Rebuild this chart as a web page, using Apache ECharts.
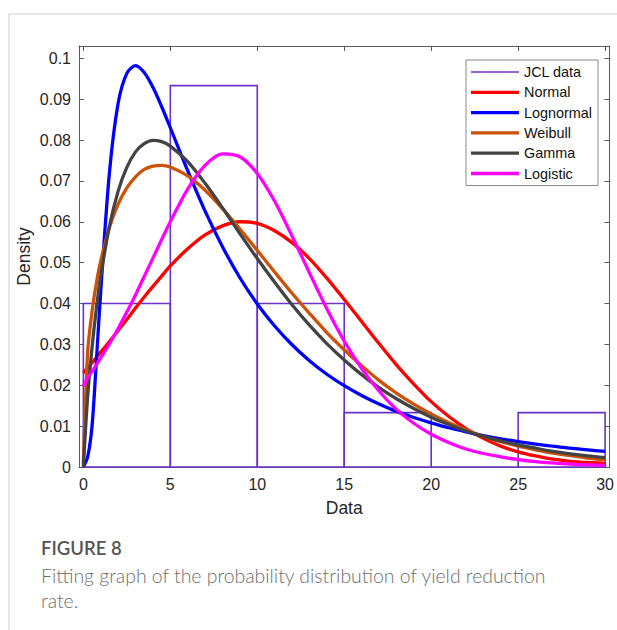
<!DOCTYPE html>
<html lang="en">
<head>
<meta charset="UTF-8">
<title>Figure 8</title>
<script src="https://cdn.jsdelivr.net/npm/echarts@6.0.0/dist/echarts.min.js"></script>
<style>
  html, body { margin: 0; padding: 0; background: #fff; }
  #main { width: 617px; height: 630px; }
</style>
</head>
<body>
<div id="main"></div>
<script>
// histogram of the JCL data (density per 5-unit bin)
var binEdges = [0, 5, 10, 15, 20, 25, 30];
var binDensity = [0.04, 0.0933, 0.04, 0.0133, 0, 0.0133];

// fitted curves
var xs = [0, 0.25, 0.5, 0.75, 1, 1.5, 2, 2.5, 3, 3.5, 4, 4.5, 5,
  6, 7, 8, 9, 10, 11, 12, 13, 14, 15, 16, 17, 18, 19, 20,
  21, 22, 23, 24, 25, 26, 27, 28, 29, 30];
var normalPdf = [0.0230, 0.0243, 0.0255, 0.0268, 0.0281, 0.0307, 0.0334, 0.0361, 0.0389, 0.0416, 0.0442, 0.0467, 0.0492,
  0.0534, 0.0568, 0.0590, 0.0600, 0.0596, 0.0578, 0.0549, 0.0510, 0.0462, 0.0410, 0.0356, 0.0302, 0.0250, 0.0203, 0.0160,
  0.0124, 0.0094, 0.0070, 0.0051, 0.0037, 0.0027, 0.0019, 0.0014, 0.0011, 0.0009];
var lognormalPdf = [0, 0.0025, 0.0100, 0.0260, 0.0430, 0.0720, 0.0890, 0.0963, 0.0982, 0.0965, 0.0929, 0.0882, 0.0830,
  0.0725, 0.0626, 0.0539, 0.0463, 0.0399, 0.0345, 0.0299, 0.0260, 0.0227, 0.0199, 0.0175, 0.0154, 0.0136, 0.0121, 0.0108,
  0.0096, 0.0086, 0.0077, 0.0069, 0.0062, 0.0056, 0.0051, 0.0046, 0.0042, 0.0038];
var weibullPdf = [0.0010, 0.0283, 0.0380, 0.0450, 0.0504, 0.0586, 0.0643, 0.0683, 0.0710, 0.0728, 0.0736, 0.0738, 0.0734,
  0.0712, 0.0677, 0.0632, 0.0582, 0.0530, 0.0477, 0.0425, 0.0376, 0.0329, 0.0287, 0.0248, 0.0212, 0.0181, 0.0154, 0.0130,
  0.0109, 0.0091, 0.0075, 0.0062, 0.0051, 0.0042, 0.0034, 0.0028, 0.0022, 0.0018];
var gammaPdf = [0, 0.0174, 0.0292, 0.0388, 0.0467, 0.0589, 0.0675, 0.0733, 0.0771, 0.0791, 0.0799, 0.0796, 0.0785,
  0.0747, 0.0694, 0.0634, 0.0571, 0.0510, 0.0452, 0.0397, 0.0347, 0.0302, 0.0262, 0.0226, 0.0194, 0.0167, 0.0143, 0.0122,
  0.0104, 0.0088, 0.0075, 0.0064, 0.0054, 0.0046, 0.0038, 0.0032, 0.0027, 0.0023];
var logisticPdf = [0.0198, 0.0218, 0.0234, 0.0250, 0.0267, 0.0301, 0.0339, 0.0379, 0.0421, 0.0466, 0.0511, 0.0556, 0.0600,
  0.0680, 0.0738, 0.0766, 0.0759, 0.0718, 0.0650, 0.0565, 0.0475, 0.0387, 0.0308, 0.0241, 0.0186, 0.0141, 0.0107, 0.0080,
  0.0060, 0.0044, 0.0033, 0.0025, 0.0018, 0.0013, 0.0010, 0.0007, 0.0005, 0.0004];

var xTicks = [0, 5, 10, 15, 20, 25, 30];
var yTicks = [0, 0.01, 0.02, 0.03, 0.04, 0.05, 0.06, 0.07, 0.08, 0.09, 0.1];

var F = '"Liberation Sans", Arial, sans-serif';
var CAP = 'Lato, "Open Sans", sans-serif';
var axisCol = '#5a5a5a';
var histColor = '#6a32c8';

function pairs(arr) {
  return xs.map(function (x, i) { return [x, arr[i]]; });
}

function curve(name, arr, color) {
  return {
    type: 'line', name: name, data: pairs(arr),
    showSymbol: false, symbol: 'none', smooth: 0.3,
    lineStyle: { color: color, width: 3.3 },
    itemStyle: { color: color },
    emphasis: { disabled: true }
  };
}

var chart = echarts.init(document.getElementById('main'), null, { renderer: 'svg' });

chart.setOption({
  animation: false,
  grid: { left: 79, right: 6, top: 46, bottom: 163 },
  xAxis: [{
    type: 'value', min: -0.25, max: 30.25,
    name: 'Data', nameLocation: 'middle', nameGap: 32,
    nameTextStyle: { fontSize: 17.5, color: '#262626', fontFamily: F },
    axisLine: { show: true, onZero: false, lineStyle: { color: axisCol, width: 1 } },
    axisTick: { show: true, inside: true, length: 5, customValues: xTicks, lineStyle: { color: axisCol } },
    axisLabel: { customValues: xTicks, fontSize: 16, color: '#262626', margin: 9, fontFamily: F },
    splitLine: { show: false }
  }, {
    type: 'value', position: 'top', min: -0.25, max: 30.25,
    axisLine: { show: true, onZero: false, lineStyle: { color: axisCol, width: 1 } },
    axisTick: { show: true, inside: true, length: 5, customValues: xTicks, lineStyle: { color: axisCol } },
    axisLabel: { show: false },
    splitLine: { show: false }
  }],
  yAxis: [{
    type: 'value', min: 0, max: 0.103,
    name: 'Density', nameLocation: 'middle', nameGap: 46, nameRotate: 90,
    nameMoveOverlap: false,
    nameTextStyle: { fontSize: 17.5, color: '#262626', fontFamily: F },
    axisLine: { show: true, onZero: false, lineStyle: { color: axisCol, width: 1 } },
    axisTick: { show: true, inside: true, length: 5, customValues: yTicks, lineStyle: { color: axisCol } },
    axisLabel: {
      customValues: yTicks, fontSize: 16, color: '#262626', margin: 8, fontFamily: F,
      formatter: function (v) { return String(parseFloat(v.toFixed(2))); }
    },
    splitLine: { show: false }
  }, {
    type: 'value', position: 'right', min: 0, max: 0.103,
    axisLine: { show: true, onZero: false, lineStyle: { color: axisCol, width: 1 } },
    axisTick: { show: true, inside: true, length: 5, customValues: yTicks, lineStyle: { color: axisCol } },
    axisLabel: { show: false },
    splitLine: { show: false }
  }],
  legend: {
    orient: 'vertical', left: 466, top: 60,
    padding: [5, 6, 5, 5],
    itemWidth: 48, itemHeight: 14, itemGap: 6.3,
    backgroundColor: '#fff', borderColor: '#8a8a8a', borderWidth: 1,
    textStyle: { fontSize: 14.4, color: '#111', fontFamily: F },
    itemStyle: { borderWidth: 0 },
    selectedMode: false,
    data: [
      { name: 'JCL data', icon: 'path://M0,0H48V1.6H0Z' },
      { name: 'Normal', icon: 'path://M0,0H48V3.3H0Z' },
      { name: 'Lognormal', icon: 'path://M0,0H48V3.3H0Z' },
      { name: 'Weibull', icon: 'path://M0,0H48V3.3H0Z' },
      { name: 'Gamma', icon: 'path://M0,0H48V3.3H0Z' },
      { name: 'Logistic', icon: 'path://M0,0H48V3.3H0Z' }
    ]
  },
  graphic: [
    { type: 'line', shape: { x1: 9, y1: 14, x2: 617, y2: 14 }, style: { stroke: '#cfcfcf', lineWidth: 1 } },
    { type: 'line', shape: { x1: 9, y1: 14, x2: 9, y2: 630 }, style: { stroke: '#cfcfcf', lineWidth: 1 } },
    { type: 'text', left: 41, top: 538, style: { text: 'FIGURE 8', font: '600 18.5px ' + CAP, fill: '#555' } },
    {
      type: 'text', left: 41, top: 563,
      style: {
        text: 'Fitting graph of the probability distribution of yield reduction\nrate.',
        font: '300 19.4px ' + CAP, fill: '#6e6e6e', lineHeight: 25
      }
    }
  ],
  series: [{
    type: 'custom', name: 'JCL data',
    itemStyle: { color: histColor },
    data: binDensity.map(function (d, i) { return [binEdges[i], binEdges[i + 1], d]; }),
    encode: { x: [0, 1], y: 2 },
    renderItem: function (params, api) {
      var a = api.coord([api.value(0), 0]);
      var b = api.coord([api.value(1), api.value(2)]);
      return {
        type: 'polygon',
        shape: { points: [[a[0], a[1]], [a[0], b[1]], [b[0], b[1]], [b[0], a[1]]] },
        style: { fill: 'none', stroke: histColor, lineWidth: 1.6 }
      };
    }
  },
    curve('Normal', normalPdf, '#ff0000'),
    curve('Lognormal', lognormalPdf, '#0000ff'),
    curve('Weibull', weibullPdf, '#cc5208'),
    curve('Gamma', gammaPdf, '#434343'),
    curve('Logistic', logisticPdf, '#ff00ff')
  ]
});
</script>
</body>
</html>
